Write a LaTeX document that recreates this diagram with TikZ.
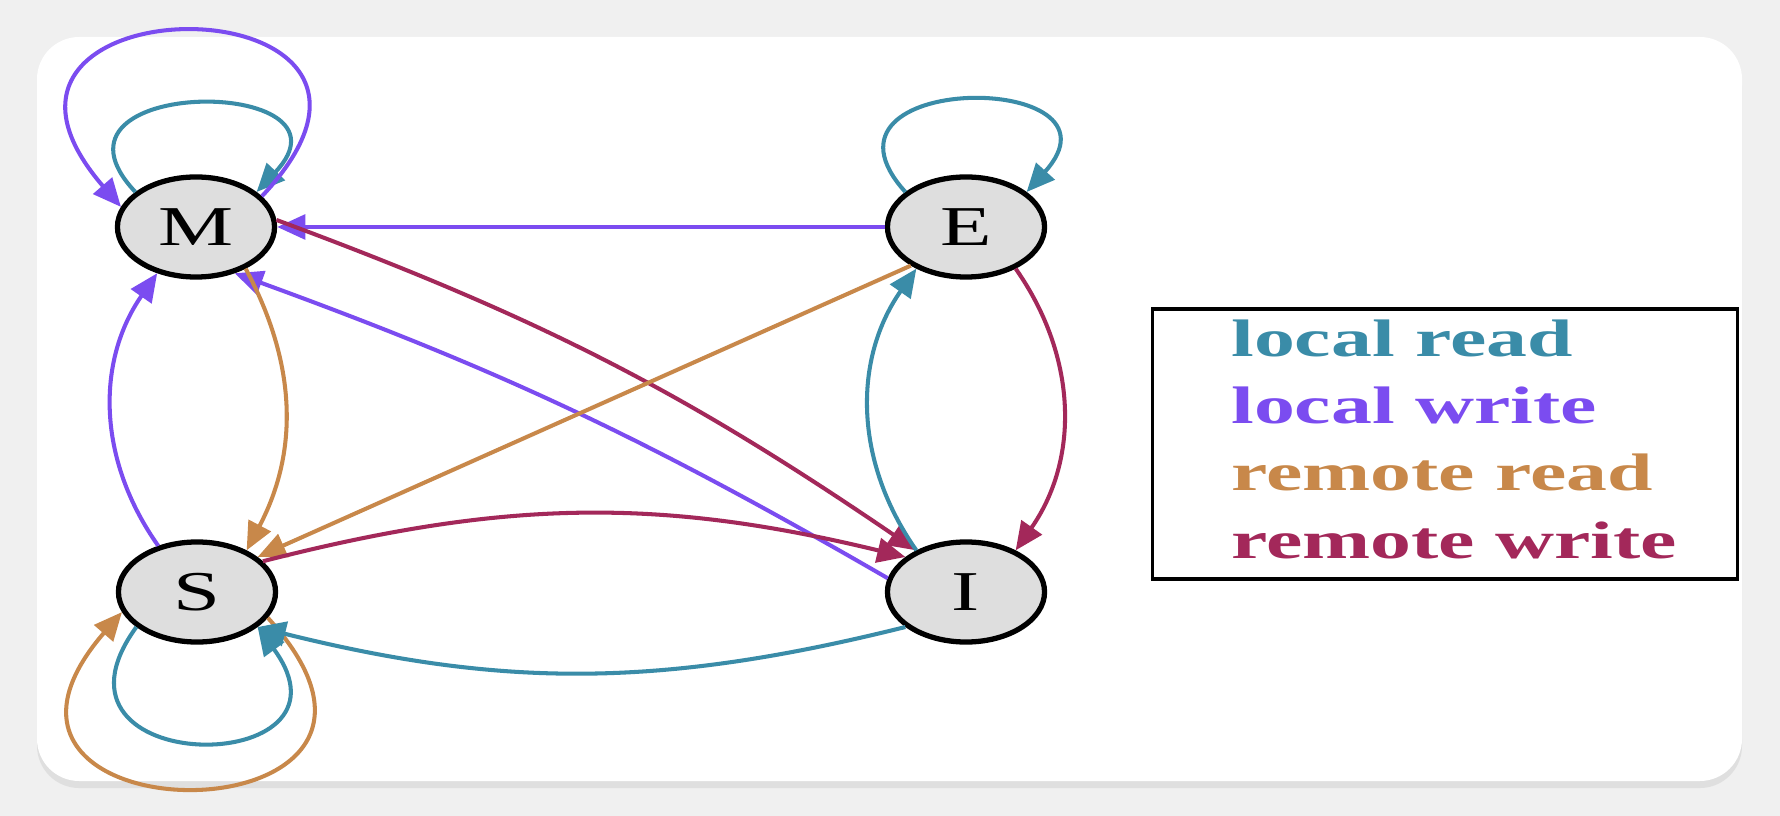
\documentclass[tikz,border=0pt]{standalone}
\usepackage{fontspec}
\setmainfont{Liberation Serif}
\usetikzlibrary{arrows.meta,shadows,shapes.geometric}
\definecolor{lr}{HTML}{3A8CA8}
\definecolor{lw}{HTML}{7B4CF0}
\definecolor{rr}{HTML}{C8884A}
\definecolor{rw}{HTML}{A3285A}
\begin{document}
\begin{tikzpicture}[x=0.01cm,y=-0.01cm,
  st/.style={draw=black,line width=1.5pt,fill=black!13,ellipse,minimum width=1.57cm,minimum height=1.0cm,inner sep=0pt},
  lab/.style={font=\fontsize{16}{16}\selectfont,xscale=1.5},
  ed/.style={line width=1.15pt,-{Triangle[length=8pt,width=7pt]}},
  leg/.style={anchor=west,font=\bfseries\fontsize{15}{15}\selectfont,xscale=1.55}]
\useasboundingbox (0,0) rectangle (1780,816);
\fill[black!6] (0,0) rectangle (1780,816);
\fill[white,rounded corners=12pt,drop shadow={opacity=0.15,shadow xshift=0pt,shadow yshift=-2pt}] (37,37) rectangle (1742,781);
\node[st] (M) at (196,227) {};
\node[st] (E) at (966,227) {};
\node[st] (S) at (197,592) {};
\node[st] (I) at (966,592) {};
\node[lab] (tM) at (M) {M};
\node[lab] (tE) at (E) {E};
\node[lab] (tS) at (S) {S};
\node[lab] (tI) at (I) {I};
% loops
\draw[ed,lr] (M.150) .. controls (25,75) and (367,75) .. (M.30);
\draw[ed,lw] (M.25) .. controls (470,-25) and (-80,-25) .. (M.165);
\draw[ed,lr] (E.150) .. controls (795,70) and (1137,70) .. (E.30);
\draw[ed,lr] (S.210) .. controls (25,780) and (370,780) .. (S.330);
\draw[ed,rr] (S.340) .. controls (475,845) and (-80,845) .. (S.195);
% edges
\draw[ed,lw] (E) -- (M);
\draw[ed,rw] (M.5) to[bend left=7] (I.140);
\draw[ed,lw] (I.170) to[bend right=5] (M.310);
\draw[ed,rr] (M.320) to[bend left=28] (S.40);
\draw[ed,lw] (S.130) to[bend left=35] (M.230);
\draw[ed,rr] (E.215) -- (S.30);
\draw[ed,lr] (I.140) to[bend left=35] (E.220);
\draw[ed,rw] (E.320) to[bend left=35] (I.40);
\draw[ed,rw] (S.25) to[bend left=14] (I.150);
\draw[ed,lr] (I.210) to[bend left=14] (S.330);
% legend
\node[draw=black,line width=0.9pt,minimum width=5.85cm,minimum height=2.7cm,inner sep=0pt] (L) at (1445,444) {};
\node[leg,lr] (l1) at (1212,338) {local read};
\node[leg,lw] (l2) at (1212,405) {local write};
\node[leg,rr] (l3) at (1212,472) {remote read};
\node[leg,rw] (l4) at (1212,540) {remote write};
\end{tikzpicture}
\end{document}
